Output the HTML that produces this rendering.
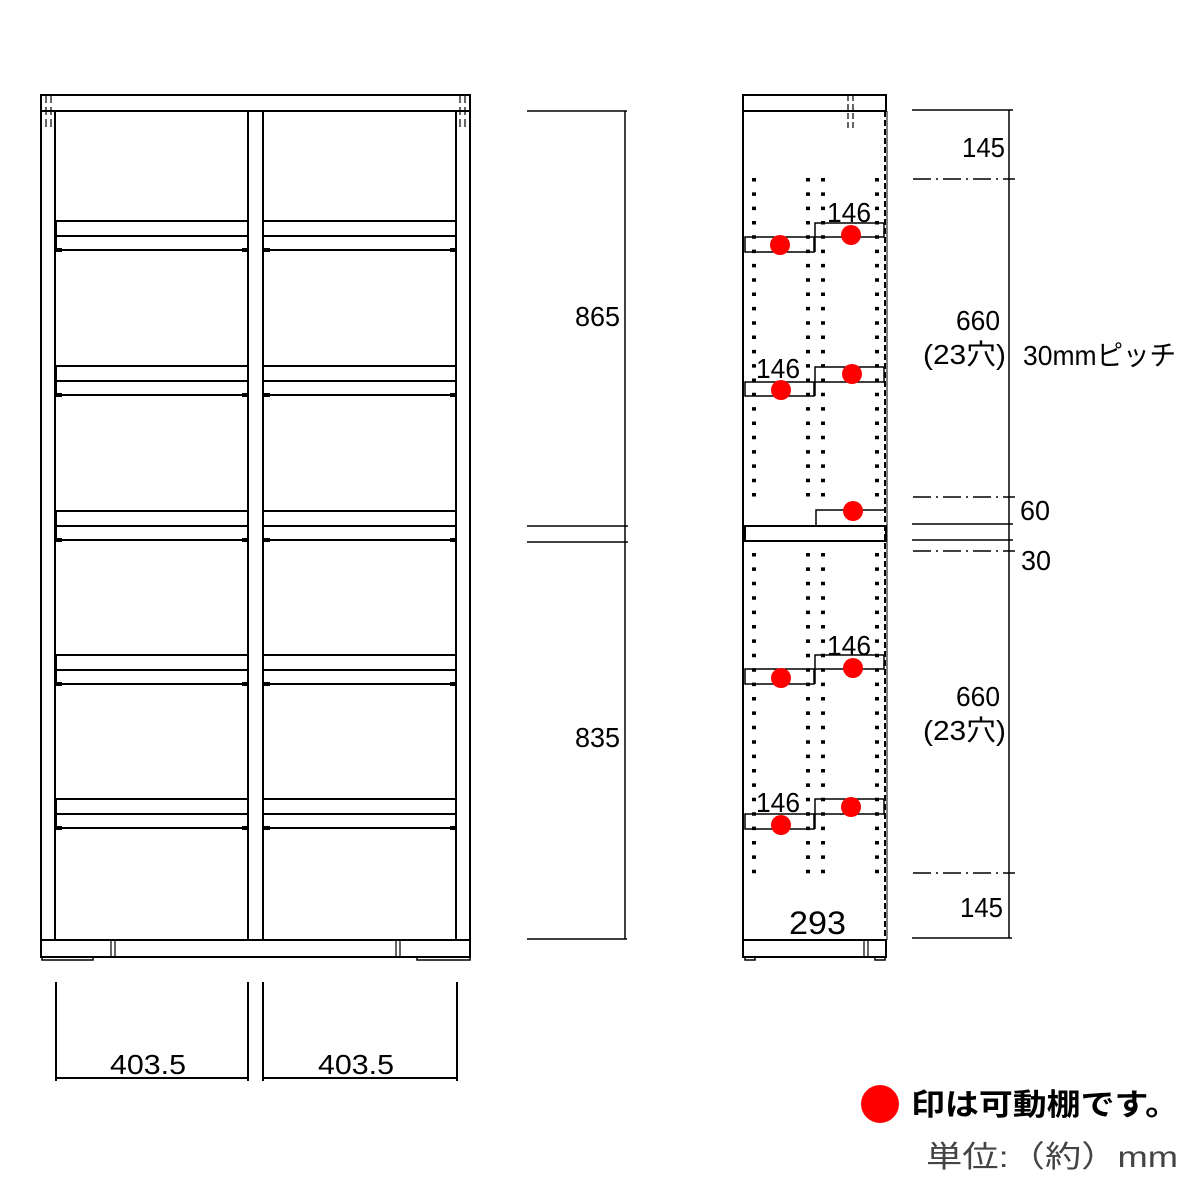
<!DOCTYPE html>
<html><head><meta charset="utf-8"><style>html,body{margin:0;padding:0;background:#fff}svg{display:block}</style></head>
<body>
<svg width="1200" height="1200" viewBox="0 0 1200 1200" xmlns="http://www.w3.org/2000/svg" font-family="'Liberation Sans','Noto Sans CJK JP',sans-serif">
<g fill="none" stroke="#000" stroke-width="2">
<!-- FRONT VIEW -->
<rect x="41" y="95" width="429" height="16"/>
<line x1="41" y1="111" x2="41" y2="957"/><line x1="55" y1="111" x2="55" y2="940"/>
<line x1="456" y1="111" x2="456" y2="940"/><line x1="470" y1="111" x2="470" y2="957"/>
<line x1="248" y1="111" x2="248" y2="940"/><line x1="263" y1="111" x2="263" y2="940"/>
<rect x="41" y="940" width="429" height="17"/>
<path d="M42 957v3h51v-3M417 957v3h53v-3" stroke-width="1.5"/>
<g stroke-width="1.2" stroke-dasharray="8,4"><line x1="46" y1="95" x2="46" y2="127"/><line x1="51" y1="95" x2="51" y2="127"/><line x1="460" y1="95" x2="460" y2="127"/><line x1="465" y1="95" x2="465" y2="127"/></g>
<g stroke-width="1.2"><line x1="111" y1="940" x2="111" y2="957"/><line x1="115" y1="940" x2="115" y2="957"/><line x1="396" y1="940" x2="396" y2="957"/><line x1="400" y1="940" x2="400" y2="957"/></g>
<g id="sh">
<path d="M55 221H248M55 236H248M55 250H248M56 221V250M263 221H456M263 236H456M263 250H456"/>
<path d="M56 250h6M242 250h6M264 250h6M450 250h6" stroke-width="4"/>
</g>
<use href="#sh" y="145"/><use href="#sh" y="290"/><use href="#sh" y="434"/><use href="#sh" y="578"/>
<!-- width dims -->
<path d="M56 982V1081M248 982V1081M263 982V1081M457 982V1081M56 1078H248M263 1078H457"/>
<!-- height dims -->
<path d="M527 111H627M625 111V939M527 526H628M527 542H628M527 939H627" stroke-width="1.5"/>
<!-- SIDE VIEW -->
<rect x="743" y="95" width="143" height="16"/>
<line x1="743" y1="111" x2="743" y2="940"/>
<line x1="885" y1="111" x2="885" y2="940" stroke-dasharray="6,3"/>
<line x1="887" y1="111" x2="887" y2="940" stroke-width="1"/>
<rect x="743" y="940" width="143" height="17"/>
<path d="M745 957v3h10v-3M875 957v3h10v-3" stroke-width="1.5"/>
<g stroke-width="1.2" stroke-dasharray="6,3"><line x1="848" y1="95" x2="848" y2="128"/><line x1="853" y1="95" x2="853" y2="128"/></g>
<g stroke-width="1.2"><line x1="864" y1="940" x2="864" y2="957"/><line x1="868" y1="940" x2="868" y2="957"/></g>
<rect x="745" y="526" width="141" height="15"/>
<path d="M745 237H814V252H745ZM815 252V223H884V237H815" stroke-width="1.5"/>
<path d="M745 382H814V396H745ZM815 396V367H884V382H815" stroke-width="1.5"/>
<path d="M816 526V510H884" stroke-width="1.5"/>
<path d="M745 669H814V684H745ZM815 684V655H884V669H815" stroke-width="1.5"/>
<path d="M745 814H814V829H745ZM815 829V799H884V814H815" stroke-width="1.5"/>
<!-- holes -->
<g stroke-width="4" stroke-dasharray="3.5,10.82">
<path d="M754 178V500M808 178V500M823 178V500M877 178V500"/>
</g>
<g stroke-width="4" stroke-dasharray="3.5,10.9">
<path d="M754 553V876M808 553V876M823 553V876M877 553V876"/>
</g>
<!-- right dims -->
<path d="M912 110H1013M1009 110V938M912 524H1013M912 540H1013M912 938H1012" stroke-width="1.5"/>
<g stroke-width="1.5" stroke-dasharray="18,5,2,5"><path d="M913 179H1015M913 497H1015M913 551H1015M913 873H1015"/></g>
</g>
<g fill="#f00">
<circle cx="780" cy="245" r="10"/><circle cx="851" cy="235" r="10"/>
<circle cx="781" cy="390" r="10"/><circle cx="852" cy="374" r="10"/>
<circle cx="853" cy="511" r="10"/>
<circle cx="781" cy="678" r="10"/><circle cx="853" cy="668" r="10"/>
<circle cx="781" cy="825" r="10"/><circle cx="851" cy="807" r="10"/>
<circle cx="880" cy="1104" r="19"/>
</g>
<g fill="#000" font-size="28">
<text x="110" y="1074" textLength="76" lengthAdjust="spacingAndGlyphs">403.5</text>
<text x="318" y="1074" textLength="76" lengthAdjust="spacingAndGlyphs">403.5</text>
<text x="575" y="326" textLength="45" lengthAdjust="spacingAndGlyphs">865</text>
<text x="575" y="747" textLength="45" lengthAdjust="spacingAndGlyphs">835</text>
<text x="962" y="157" textLength="43" lengthAdjust="spacingAndGlyphs">145</text>
<text x="956" y="330" textLength="44" lengthAdjust="spacingAndGlyphs">660</text>
<text x="923" y="364" textLength="83" lengthAdjust="spacingAndGlyphs">(23穴)</text>
<text x="1023" y="365" textLength="153" lengthAdjust="spacingAndGlyphs">30mmピッチ</text>
<text x="1020" y="520" textLength="30" lengthAdjust="spacingAndGlyphs">60</text>
<text x="1021" y="570" textLength="30" lengthAdjust="spacingAndGlyphs">30</text>
<text x="956" y="706" textLength="44" lengthAdjust="spacingAndGlyphs">660</text>
<text x="923" y="740" textLength="83" lengthAdjust="spacingAndGlyphs">(23穴)</text>
<text x="960" y="917" textLength="43" lengthAdjust="spacingAndGlyphs">145</text>
<text x="789" y="934" font-size="32" textLength="57" lengthAdjust="spacingAndGlyphs">293</text>
<text x="827" y="222" textLength="44" lengthAdjust="spacingAndGlyphs">146</text>
<text x="756" y="378" textLength="44" lengthAdjust="spacingAndGlyphs">146</text>
<text x="827" y="655" textLength="44" lengthAdjust="spacingAndGlyphs">146</text>
<text x="756" y="812" textLength="44" lengthAdjust="spacingAndGlyphs">146</text>
<text x="911" y="1115" font-size="30" font-weight="bold" textLength="268" lengthAdjust="spacingAndGlyphs">印は可動棚です。</text>
<text x="926" y="1167" font-size="30" fill="#444" textLength="252" lengthAdjust="spacingAndGlyphs">単位:（約）mm</text>
</g>
</svg>
</body></html>
